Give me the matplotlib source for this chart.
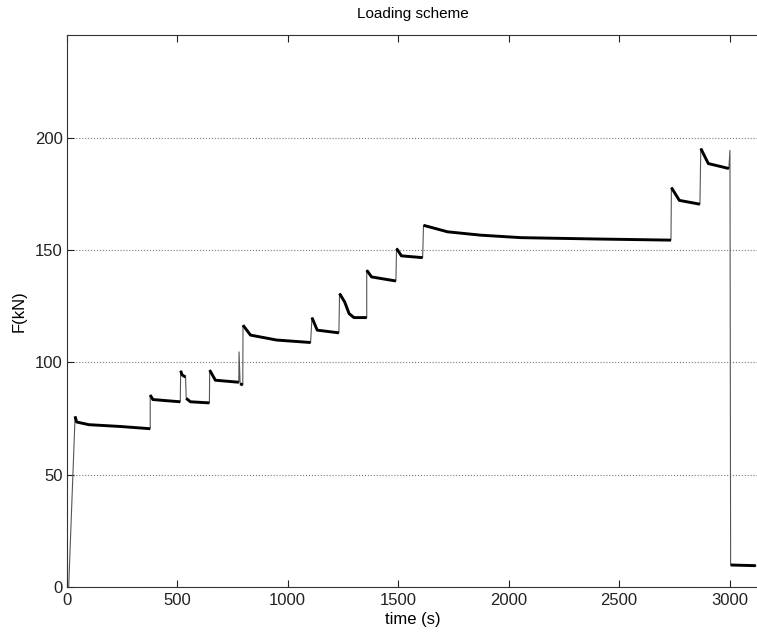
import matplotlib
matplotlib.use("Agg")
import matplotlib.pyplot as plt

plt.rcParams['font.family'] = ['Liberation Sans', 'DejaVu Sans']

# load stages: time (s) and force (kN)
rise_t = [9, 38]
rise_f = [0, 76]

stage_t = [
    [38, 45, 100, 242, 378],
    [378, 390, 450, 514],
    [516, 522, 538],
    [541, 560, 646],
    [647, 673, 779],
    [785, 797],
    [798, 832, 950, 1104],
    [1110, 1134, 1232],
    [1235, 1258, 1278, 1300, 1358],
    [1358, 1380, 1490],
    [1493, 1515, 1611],
    [1615, 1724, 1875, 2057, 2400, 2735],
    [2737, 2773, 2866],
    [2870, 2904, 2997],
    [3005, 3119],
]
stage_f = [
    [76, 73.5, 72.3, 71.5, 70.5],
    [85.5, 83.5, 83.0, 82.5],
    [96.3, 94.5, 93.5],
    [84.0, 82.5, 82.0],
    [96.6, 92.1, 91.2],
    [90.5, 90.0],
    [116.6, 112.2, 110.0, 108.9],
    [120.0, 114.4, 113.2],
    [130.7, 127.0, 121.8, 120.0, 120.0],
    [141.1, 138.1, 136.3],
    [150.8, 147.5, 146.7],
    [161.1, 158.2, 156.7, 155.6, 155.0, 154.5],
    [177.9, 172.2, 170.5],
    [195.3, 188.6, 186.4],
    [9.8, 9.5],
]

# short spikes between stages
spike_after = {4: (780, 104.7), 13: (3002, 194.5)}

time = list(rise_t)
force = list(rise_f)
for i, (ts, fs) in enumerate(zip(stage_t, stage_f)):
    time += ts
    force += fs
    if i in spike_after:
        time.append(spike_after[i][0])
        force.append(spike_after[i][1])

fig = plt.figure(figsize=(7.57, 6.32), dpi=100)
ax = fig.add_axes([0.0881, 0.0712, 0.915, 0.8739])

ax.plot(time, force, color='#555555', lw=0.8)
for ts, fs in zip(stage_t, stage_f):
    ax.plot(ts, fs, color='black', lw=2.1, solid_capstyle='butt')

ax.set_xlim(0, 3135)
ax.set_ylim(0, 246)
ax.set_xticks([0, 500, 1000, 1500, 2000, 2500, 3000])
ax.set_yticks([0, 50, 100, 150, 200])
ax.yaxis.grid(True, linestyle=':', color='#777777', lw=0.8)
ax.tick_params(direction='in', length=5, width=0.8, labelsize=12,
               top=True, right=False, pad=4, colors='#222222')
ax.tick_params(axis='y', pad=3)
for s in ax.spines.values():
    s.set_color('#333333')
    s.set_linewidth(0.8)

ax.set_title('Loading scheme', fontsize=11, pad=12)
ax.set_xlabel('time (s)', fontsize=12, labelpad=3)
ax.set_ylabel('F(kN)', fontsize=12, labelpad=6)

fig.savefig('out.png', dpi=100)
